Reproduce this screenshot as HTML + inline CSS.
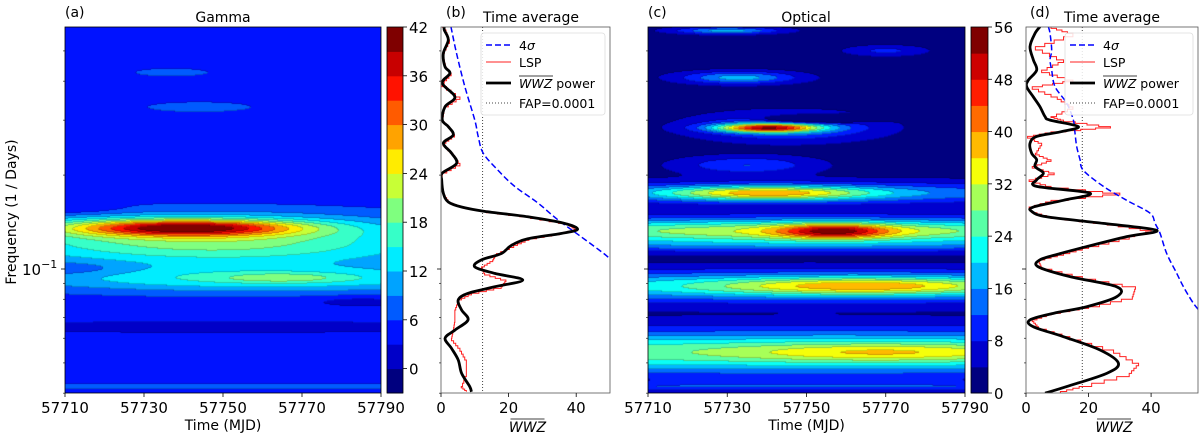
<!DOCTYPE html>
<html><head><meta charset="utf-8">
<style>
html,body{margin:0;padding:0;background:#fff;}
body{width:1200px;height:437px;position:relative;overflow:hidden;font-family:"DejaVu Sans","Liberation Sans",sans-serif;}
canvas{position:absolute;}
svg{position:absolute;left:0;top:0;}
</style></head>
<body>
<canvas id="cvA" width="316" height="366" style="left:65px;top:27px"></canvas>
<canvas id="cvC" width="317" height="366" style="left:648px;top:27px"></canvas>
<svg id="sv" width="1200" height="437"></svg>
<script>
// ---- Gamma WWZ map components (time, frequency, amplitude, widths) ----
const gammaT0  = [57740, 57745, 57760, 57765, 57750, 57712, 57785, 57750, 57737, 57744, 57750, 57712];
const gammaF0  = [0.1354, 0.130, 0.093, 0.0935, 0.112, 0.100, 0.0784, 0.065, 0.426, 0.33, 0.042, 0.155];
const gammaAmp = [26, 14, 11, 5, 7, -3, -3, -3, 2.5, 3.5, 2.5, -3];
const gammaSt  = [20, 40, 45, 10, 45, 10, 10, 60, 9, 10, 80, 9];
const gammaSd  = [0.018, 0.045, 0.03, 0.01, 0.035, 0.015, 0.012, 0.015, 0.012, 0.012, 0.008, 0.012];
const gammaBase = 4.5;
const gammaLevels = [-3,0,3,6,9,12,15,18,21,24,27,30,33,36,39,42];
const gammaCbTicks = [0,6,12,18,24,30,36,42];
// ---- Optical WWZ map components ----
const optT0  = [57757,57750,57740,57750,57740,57745,57752,57733,57730,57770,57765,57750,57770,57750,57750,57735,57750];
const optF0  = [0.132,0.132,0.175,0.175,0.283,0.285,0.302,0.41,0.58,0.50,0.088,0.088,0.054,0.054,0.042,0.215,0.118];
const optAmp = [24,30,24,14,38,14,-25,16,16,7,18,20,10,25,8,10,6];
const optSt  = [10,70,18,60,9,15,8,10,9,7,25,90,25,150,150,12,90];
const optSd  = [0.016,0.03,0.016,0.025,0.010,0.03,0.008,0.014,0.008,0.012,0.02,0.035,0.02,0.05,0.01,0.02,0.015];
const optBase = 2;
const optLevels = [0,4,8,12,16,20,24,28,32,36,40,44,48,52,56];
const optCbTicks = [0,8,16,24,32,40,48,56];
// ---- Time-average panel (b) ----
const freqB = [.598,.583,.542,.491,.445,.424,.394,.356,.331,.300,.286,.269,.253,.235,.218,.203,.193,.175,.164,.158,.153,.147,.140,.134,.130,.125,.119,.112,.107,.1016,.0968,.0922,.0877,.0836,.0796,.0739,.0687,.0637,.0600,.0557,.0511,.0463,.0420,.0404];
const wwzB = [0.98,0.98,2.16,0.69,1.18,2.65,0.39,4.12,1.18,0.39,2.16,3.63,0.69,3.14,4.61,0.39,0.2,0.69,2.16,6.08,12.9,25.7,36.5,40.4,35.5,25.7,20.8,17.8,11.96,10.0,15.9,24.2,15.9,8.0,5.1,6.1,8.0,4.1,1.2,3.1,5.1,6.1,8.5,9.0];
const lspB = [0.5,1.5,2.5,0.5,1.5,3.0,0.3,5.6,1.0,0.4,2.5,4.0,0.6,3.5,5.6,0.4,0.2,0.8,2.5,6.5,13.5,26.5,37.5,40.0,35.0,26.0,21.5,16.4,15.3,12.0,12.9,19.2,17.8,9.0,5.1,4.1,4.1,3.6,3.1,5.6,7.5,7.5,6.0,8.0];
const sigFreqB = [.598,.491,.384,.300,.266,.235,.207,.184,.163,.144,.127,.112,.107,.100];
const sigB = [2.94,4.6,7.06,10,11,12.5,16.9,21.8,28.6,34.5,41.4,48.2,50.2,53];
const fapB = 12.3;
const xTicksB = [0,20,40];
// ---- Time-average panel (d) ----
const freqD = [.598,.569,.516,.468,.434,.403,.384,.356,.331,.308,.300,.286,.275,.266,.253,.235,.224,.213,.203,.193,.184,.175,.166,.158,.153,.147,.140,.133,.127,.118,.112,.107,.1016,.0945,.0877,.0815,.0757,.0721,.0687,.0653,.0607,.0550,.0499,.0463,.0420,.0400];
const wwzD = [4.48,2.88,1.28,2.35,3.41,0.75,0.21,2.35,4.48,6.08,7.68,16.75,10.88,3.41,1.28,1.81,3.41,2.88,5.55,3.41,3.41,20.48,11.95,2.35,1.81,6.61,24.75,41.81,32.21,19.41,10.88,4.48,3.95,14.08,29.01,29.01,19.41,8.75,1.28,2.35,11.95,23.68,29.55,25.81,13.01,6.1];
const lspD = [8,15,3,12,5,15,2,10,15,8,12,27,8,0.5,5,3,8,2,9,1,8,30,8,1,2,8,26,40,33,20,12,4,5,18,35,34,20,8,2,4,14,28,36,33,17,9];
const sigFreqD = [.598,.569,.503,.468,.434,.384,.340,.300,.272,.247,.224,.207,.184,.166,.151,.140,.130,.112,.0968,.0877,.0776,.0721];
const sigD = [7.15,7.68,8.21,7.68,8.21,9.28,13.01,15.15,15.68,16.21,17.28,18.35,24.75,32.21,39.68,41.28,42.88,45.01,48.21,50.35,53.55,56.2];
const fapD = 18;
const xTicksD = [0,20,40];
const timeTicks = [57710,57730,57750,57770,57790];
const minorFreqs = [0.04,0.05,0.06,0.07,0.08,0.09,0.2,0.3,0.4,0.5];

// ---------- geometry ----------
const TOP=27, BOT=393;
function yOf(f){ return 269 - 312*(Math.log10(f)+1); }
function fOf(y){ return Math.pow(10, -1 + (269-y)/312); }
const NS='http://www.w3.org/2000/svg';
const sv=document.getElementById('sv');
function el(tag, attrs, parent){
  const e=document.createElementNS(NS,tag);
  for(const k in attrs) e.setAttribute(k, attrs[k]);
  (parent||sv).appendChild(e); return e;
}
function txt(x,y,s,size,anchor,parent){
  const t=el('text',{x:x,y:y,'font-size':size,'text-anchor':anchor||'start',fill:'#000'},parent);
  t.textContent=s; return t;
}
function jet(t){
  const c=v=>Math.max(0,Math.min(1,v));
  return [c(1.5-Math.abs(4*t-3))*255, c(1.5-Math.abs(4*t-2))*255, c(1.5-Math.abs(4*t-1))*255];
}

// ---------- heatmap ----------
function drawMap(cv, x0, T0,F0,A,St,Sd,base,levels){
  const ctx=cv.getContext('2d'); const w=cv.width,h=cv.height;
  const n=levels.length-1; const idx=new Int16Array(w*h);
  for(let j=0;j<h;j++){
    const lf=Math.log10(fOf(TOP+j+0.5));
    for(let i=0;i<w;i++){
      const t=57710+(i+0.5)/w*80; let v=base;
      for(let k=0;k<T0.length;k++){
        const dt=(t-T0[k])/St[k], dl=(lf-Math.log10(F0[k]))/Sd[k];
        v+=A[k]*Math.exp(-0.5*(dt*dt+dl*dl));
      }
      let b=Math.floor((v-levels[0])/(levels[1]-levels[0]));
      idx[j*w+i]=Math.max(0,Math.min(n-1,b));
    }
  }
  const img=ctx.createImageData(w,h);
  for(let j=0;j<h;j++)for(let i=0;i<w;i++){
    const b=idx[j*w+i]; let c=jet(b/(n-1));
    const edge=(i+1<w&&idx[j*w+i+1]!==b)||(j+1<h&&idx[(j+1)*w+i]!==b);
    const p=(j*w+i)*4; const m=edge?0.82:1;
    img.data[p]=c[0]*m; img.data[p+1]=c[1]*m; img.data[p+2]=c[2]*m; img.data[p+3]=255;
  }
  ctx.putImageData(img,0,0);
}
drawMap(document.getElementById('cvA'),65,gammaT0,gammaF0,gammaAmp,gammaSt,gammaSd,gammaBase,gammaLevels);
drawMap(document.getElementById('cvC'),648,optT0,optF0,optAmp,optSt,optSd,optBase,optLevels);

function mapAxes(x0,x1,name){
  const g=el('g',{});
  
  
  el('rect',{x:x0,y:TOP,width:x1-x0,height:BOT-TOP,fill:'none',stroke:'#000','stroke-width':0.8},g);
  timeTicks.forEach(t=>{
    const x=x0+(t-57710)/80*(x1-x0);
    el('line',{x1:x,y1:BOT,x2:x,y2:BOT+4,stroke:'#000','stroke-width':0.8},g);
    txt(x,BOT+20,String(t),15,'middle',g);
  });
  yTicks(x0,g);
  txt((x0+x1)/2,BOT+37,'Time (MJD)',14,'middle',g);
}
function yTicks(x0,g){
  el('line',{x1:x0-4,y1:yOf(0.1),x2:x0,y2:yOf(0.1),stroke:'#000','stroke-width':0.8},g);
  minorFreqs.forEach(f=>{el('line',{x1:x0-2,y1:yOf(f),x2:x0,y2:yOf(f),stroke:'#000','stroke-width':0.6},g);});
}
function colorbar(x0,x1,levels,ticks,name){
  const g=el('g',{});
  
  
  const n=levels.length-1, hh=(BOT-TOP)/n;
  for(let b=0;b<n;b++){
    const c=jet(b/(n-1));
    el('rect',{x:x0,y:BOT-(b+1)*hh,width:x1-x0,height:hh+0.5,fill:`rgb(${c[0]|0},${c[1]|0},${c[2]|0})`},g);
  }
  el('rect',{x:x0,y:TOP,width:x1-x0,height:BOT-TOP,fill:'none',stroke:'#000','stroke-width':0.8},g);
  ticks.forEach(v=>{
    const y=BOT-(v-levels[0])/(levels[levels.length-1]-levels[0])*(BOT-TOP);
    el('line',{x1:x1,y1:y,x2:x1+4,y2:y,stroke:'#000','stroke-width':0.8},g);
    txt(x1+6,y+6,String(v),15,'start',g);
  });
}
mapAxes(65,381,'gamma');
colorbar(387,403,gammaLevels,gammaCbTicks,'gamma-colorbar');
mapAxes(648,965,'optical');
colorbar(971,988,optLevels,optCbTicks,'optical-colorbar');

const yl=txt(0,0,'Frequency (1 / Days)',14,'middle');
yl.setAttribute('transform','translate(16,212) rotate(-90)');


const yt=el('text',{x:22,y:275,'font-size':15});


yt.innerHTML='10<tspan dy="-7" font-size="11">−1</tspan>';

[['(a)',65,17],['(b)',446,17],['(c)',648,17],['(d)',1030,17]].forEach(a=>{
  const t=txt(a[1],a[2],a[0],14,'start');
  
  
});
[['Gamma',223],['Optical',806],['Time average',531],['Time average',1112]].forEach(a=>{
  const t=txt(a[1],22,a[0],14,'middle');
  
  
});

function catmull(pts){
  let d=`M${pts[0][0]},${pts[0][1]}`;
  for(let i=0;i<pts.length-1;i++){
    const p0=pts[Math.max(0,i-1)],p1=pts[i],p2=pts[i+1],p3=pts[Math.min(pts.length-1,i+2)];
    d+=` C${p1[0]+(p2[0]-p0[0])/6},${p1[1]+(p2[1]-p0[1])/6} ${p2[0]-(p3[0]-p1[0])/6},${p2[1]-(p3[1]-p1[1])/6} ${p2[0]},${p2[1]}`;
  }
  return d;
}
function avgPanel(id,x0,x1,xmax,freq,wwz,lsp,sf,sig,fap,ticks,lx){
  const sx=v=>x0+v/xmax*(x1-x0);
  const cp=el('clipPath',{id:'clip'+id}); el('rect',{x:x0,y:TOP,width:x1-x0,height:BOT-TOP},cp);
  const g=el('g',{'clip-path':`url(#clip${id})`});
  
  
  const fl=el('line',{x1:sx(fap),y1:TOP,x2:sx(fap),y2:BOT,stroke:'#444','stroke-width':1,'stroke-dasharray':'1,2'},g);
  
  
  let d='';
  for(let i=0;i<freq.length-1;i++){
    const ya=yOf(freq[i]), yb=yOf(freq[i+1]);
    const N=4;
    for(let s=0;s<N;s++){
      const v=lsp[i]+(lsp[i+1]-lsp[i])*(s/N);
      const y0=ya+(yb-ya)*s/N, y1=ya+(yb-ya)*(s+1)/N;
      d+=(d?' L':'M')+`${sx(v)},${y0} L${sx(v)},${y1}`;
    }
  }
  const lp=el('path',{d:d,fill:'none',stroke:'#ff2020','stroke-width':1},g);
  
  
  const bp=el('path',{d:catmull(sf.map((f,i)=>[sx(sig[i]),yOf(f)])),fill:'none',stroke:'#0000ff','stroke-width':1.5,'stroke-dasharray':'6,3'},g);
  
  
  const wp=el('path',{d:catmull(freq.map((f,i)=>[sx(wwz[i]),yOf(f)])),fill:'none',stroke:'#000','stroke-width':2.8},g);
  
  
  const ax=el('g',{});
  
  
  el('rect',{x:x0,y:TOP,width:x1-x0,height:BOT-TOP,fill:'none',stroke:'#555','stroke-width':0.8},ax);
  yTicks(x0,ax);
  ticks.forEach(v=>{
    el('line',{x1:sx(v),y1:BOT,x2:sx(v),y2:BOT+4,stroke:'#000','stroke-width':0.8},ax);
    txt(sx(v),BOT+20,String(v),15,'middle',ax);
  });
  const cx=(x0+x1)/2 - 20;
  const xl=el('text',{x:cx+22,y:BOT+39,'font-size':14,'font-style':'italic','text-anchor':'middle'});
  xl.textContent='WWZ';
  
  
  el('line',{x1:cx+5,y1:BOT+26,x2:cx+39,y2:BOT+26,stroke:'#000','stroke-width':0.8});
  const lg=el('g',{});
  
  
  el('rect',{x:lx,y:33,width:x1-lx-5,height:82,rx:3,fill:'#fff','fill-opacity':0.85,stroke:'#ddd','stroke-width':0.8},lg);
  const hx=lx+5, tx=lx+38;
  el('line',{x1:hx,y1:45,x2:hx+25,y2:45,stroke:'#0000ff','stroke-width':1.5,'stroke-dasharray':'6,3'},lg);
  const t1=el('text',{x:tx,y:50,'font-size':12.5},lg); t1.innerHTML='4<tspan font-style="italic">σ</tspan>';
  el('line',{x1:hx,y1:62,x2:hx+25,y2:62,stroke:'#ff2020','stroke-width':1},lg);
  txt(tx,67,'LSP',12.5,'start',lg);
  el('line',{x1:hx,y1:83,x2:hx+25,y2:83,stroke:'#000','stroke-width':2.8},lg);
  const t3=el('text',{x:tx,y:88,'font-size':12.5},lg); t3.innerHTML='<tspan font-style="italic">WWZ</tspan> power';
  el('line',{x1:tx,y1:76,x2:tx+34,y2:76,stroke:'#000','stroke-width':0.7},lg);
  el('line',{x1:hx,y1:103,x2:hx+25,y2:103,stroke:'#444','stroke-width':1,'stroke-dasharray':'1,2'},lg);
  txt(tx,108,'FAP=0.0001',12.5,'start',lg);
}
avgPanel('b',441,610,50,freqB,wwzB,lspB,sigFreqB,sigB,fapB,xTicksB,481);
avgPanel('d',1026,1198,55,freqD,wwzD,lspD,sigFreqD,sigD,fapD,xTicksD,1065);
</script>
</body></html>
